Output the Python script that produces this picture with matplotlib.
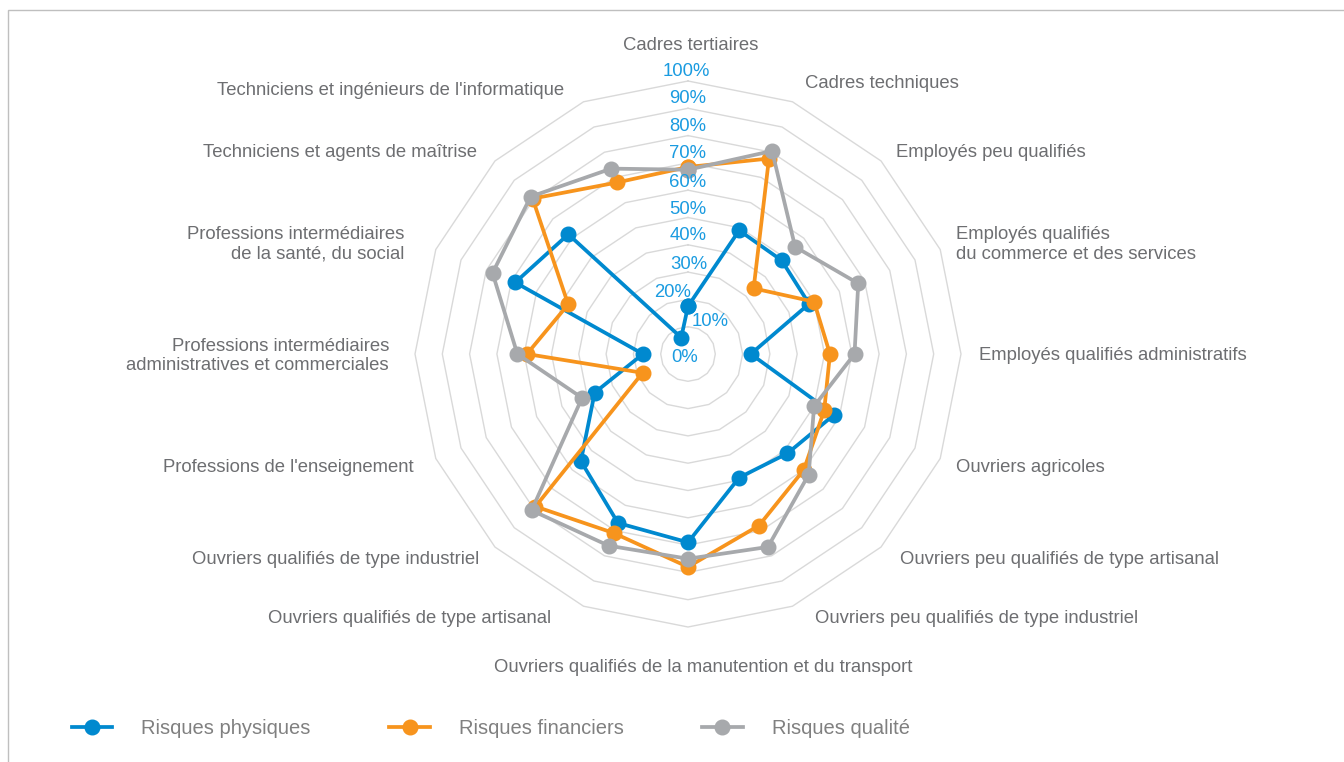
import numpy as np
import matplotlib
matplotlib.use("Agg")
import matplotlib.pyplot as plt
from matplotlib.patches import Rectangle

plt.rcParams['font.family'] = ['Liberation Sans', 'DejaVu Sans']

categories = [
    "Cadres tertiaires",
    "Cadres techniques",
    "Employés peu qualifiés",
    "Employés qualifiés\ndu commerce et des services",
    "Employés qualifiés administratifs",
    "Ouvriers agricoles",
    "Ouvriers peu qualifiés de type artisanal",
    "Ouvriers peu qualifiés de type industriel",
    "Ouvriers qualifiés de la manutention et du transport",
    "Ouvriers qualifiés de type artisanal",
    "Ouvriers qualifiés de type industriel",
    "Professions de l'enseignement",
    "Professions intermédiaires\nadministratives et commerciales",
    "Professions intermédiaires\nde la santé, du social",
    "Techniciens et agents de maîtrise",
    "Techniciens et ingénieurs de l'informatique",
]

risques_physiques = [17.5, 49, 48.5, 48, 23, 58, 51.5, 49, 69, 67, 55.5, 37, 16.5, 68.5, 62, 6.5]
risques_financiers = [68.5, 77.5, 34, 50, 52, 54, 60, 68, 78, 71, 79, 18, 59, 47.5, 80.5, 68]
risques_qualite = [67.5, 80.5, 55.5, 67.5, 61, 50, 62.5, 76.5, 75, 76, 81, 42, 62.5, 77.5, 81.5, 73.5]

series_names = ["Risques physiques", "Risques financiers", "Risques qualité"]
levels = [0, 10, 20, 30, 40, 50, 60, 70, 80, 90, 100]

colors = ["#0089cf", "#f7941d", "#a7a9ac"]
text_color = "#6d6e71"
tick_color = "#1a9be0"
grid_color = "#d9d9d9"

W, H = 1344, 762
fig = plt.figure(figsize=(W / 100, H / 100), dpi=100)

cx, cy, R = 688, 354, 273
ax = fig.add_axes([(cx - R) / W, (H - cy - R) / H, 2 * R / W, 2 * R / H], projection='polar')
ax.set_theta_zero_location('N')
ax.set_theta_direction(-1)
ax.set_ylim(0, 100)
ax.grid(False)
ax.set_xticks([])
ax.set_yticks([])
ax.spines['polar'].set_visible(False)
ax.patch.set_alpha(0)

n = len(categories)
theta = np.arange(n) * 2 * np.pi / n
theta_closed = np.append(theta, theta[0])

# polygon grid rings
for lv in levels[1:]:
    ax.plot(theta_closed, [lv] * (n + 1), color=grid_color, lw=1, clip_on=False, zorder=1)

# series
for vals, col, name in zip([risques_physiques, risques_financiers, risques_qualite], colors, series_names):
    v = np.append(vals, vals[0])
    ax.plot(theta_closed, v, color=col, lw=2.7, marker='o', markersize=10.5,
            label=name, clip_on=False, zorder=3)

# category labels (offsets in pixels from the 100% vertex)
label_offsets = [
    (3, 35, 'center'), (13, 18, 'left'), (15, 8, 'left'), (16, 5, 'left'),
    (18, -2, 'left'), (16, -9, 'left'), (19, -12, 'left'), (23, -12, 'left'),
    (15, -40, 'center'), (-32, -12, 'right'), (-16, -12, 'right'), (-22, -9, 'right'),
    (-26, -2, 'right'), (-31, 5, 'right'), (-18, 8, 'right'), (-19, 11, 'right'),
]
for t, lab, (dx, dy, ha) in zip(theta, categories, label_offsets):
    ax.annotate(lab, xy=(t, 100), xytext=(dx, dy), textcoords='offset pixels',
                ha=ha, va='center', multialignment=ha, fontsize=13.3,
                color=text_color, annotation_clip=False)

# radial tick labels
tick_offsets = [(-3, -4), (22, 5), (-15, 7), (1, 8), (0, 9), (0, 8.5),
                (0, 7.5), (0, 9.5), (0, 9.5), (0, 9.5), (-2, 9.5)]
for lv, (dx, dy) in zip(levels, tick_offsets):
    ax.annotate(f"{lv}%", xy=(0, lv), xytext=(dx, dy), textcoords='offset pixels',
                ha='center', va='center', fontsize=13.3, color=tick_color,
                annotation_clip=False, zorder=4)

# legend
fig.legend(loc='center left', bbox_to_anchor=(72 / W, 1 - 729 / H), ncol=3,
           frameon=False, fontsize=14.5, labelcolor="#808080",
           handlelength=2.0, handletextpad=1.45, columnspacing=3.9,
           borderpad=0, borderaxespad=0)

# frame (top and left edges)
fig.add_artist(Rectangle((8 / W, -0.5), 2, 0.5 + 1 - 10 / H, transform=fig.transFigure,
                         fill=False, edgecolor="#bfbfbf", lw=1))

fig.savefig("out.png", dpi=100)
